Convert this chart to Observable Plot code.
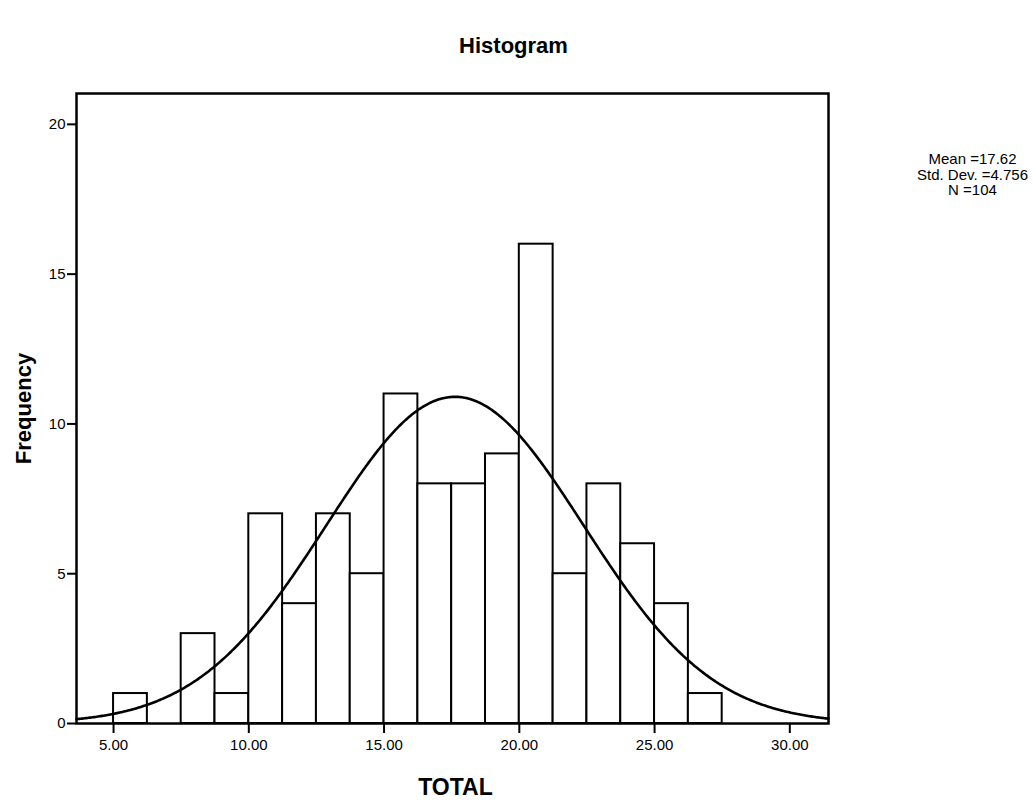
<!DOCTYPE html>
<html>
<head>
<meta charset="utf-8">
<script src="https://cdn.jsdelivr.net/npm/d3@7"></script>
<script src="https://cdn.jsdelivr.net/npm/@observablehq/plot@0.6"></script>
<style>
  html, body { margin: 0; padding: 0; background: #fff; }
</style>
</head>
<body>
<div id="chart"></div>
<script>
// ---- data ----
const binStarts = [5, 6.25, 7.5, 8.75, 10, 11.25, 12.5, 13.75, 15, 16.25, 17.5, 18.75, 20, 21.25, 22.5, 23.75, 25, 26.25];
const binWidth = 1.25;
const counts = [1, 0, 3, 1, 7, 4, 7, 5, 11, 8, 8, 9, 16, 5, 8, 6, 4, 1];
const xTicks = [5, 10, 15, 20, 25, 30];
const yTicks = [0, 5, 10, 15, 20];
const xDomain = [3.63, 31.43];
const yDomain = [0, 21.03];
const mean = 17.62;
const stdDev = 4.756;
const nTotal = 104;
const statLines = ["Mean =17.62", "Std. Dev. =4.756", "N =104"];
const titleText = "Histogram";
const xLabel = "TOTAL";
const yLabel = "Frequency";

// ---- tables built from the arrays ----
const bars = binStarts.map((s, i) => ({x1: s, x2: s + binWidth, y: counts[i]})).filter(d => d.y > 0);
// fitted normal curve (SPSS overlay) from the reported mean / std. dev., scaled to counts
const scale = nTotal * binWidth / (stdDev * Math.sqrt(2 * Math.PI));
const curve = d3.range(xDomain[0], xDomain[1] + 0.001, 0.05).map(x => ({x, y: scale * Math.exp(-0.5 * ((x - mean) / stdDev) ** 2)}));

const font = "'Liberation Sans', Arial, sans-serif";

const chart = Plot.plot({
  width: 1033,
  height: 804,
  marginLeft: 76,
  marginRight: 205,
  marginTop: 93,
  marginBottom: 81,
  style: {fontFamily: font, background: "#fff", color: "#000"},
  x: {domain: xDomain},
  y: {domain: yDomain},
  marks: [
    Plot.rect(bars, {x1: "x1", x2: "x2", y1: 0, y2: "y", fill: "#fff", stroke: "#000", strokeWidth: 2}),
    Plot.line(curve, {x: "x", y: "y", stroke: "#000", strokeWidth: 2.6}),
    Plot.frame({stroke: "#000", strokeWidth: 2.5}),
    Plot.axisX({ticks: xTicks, tickFormat: d3.format(".2f"), tickSize: 10, tickPadding: 6, fontSize: 15, strokeWidth: 2, label: null}),
    Plot.axisY({ticks: yTicks, tickFormat: d3.format("d"), tickSize: 9, tickPadding: 2, fontSize: 15, strokeWidth: 2, label: null}),
    Plot.text([titleText], {frameAnchor: "top", dx: 61, dy: -56, fontSize: 22, fontWeight: "bold"}),
    Plot.text([xLabel], {frameAnchor: "bottom", dx: 3, dy: 71, fontSize: 23, fontWeight: "bold"}),
    Plot.text([yLabel], {frameAnchor: "left", dx: -53, rotate: -90, textAnchor: "middle", fontSize: 22, fontWeight: "bold"}),
    Plot.text([statLines.join("\n")], {frameAnchor: "top-right", dx: 144, dy: 60, lineAnchor: "top", textAnchor: "middle", fontSize: 15, lineHeight: 1.02})
  ]
});

document.getElementById("chart").appendChild(chart);
</script>
</body>
</html>
